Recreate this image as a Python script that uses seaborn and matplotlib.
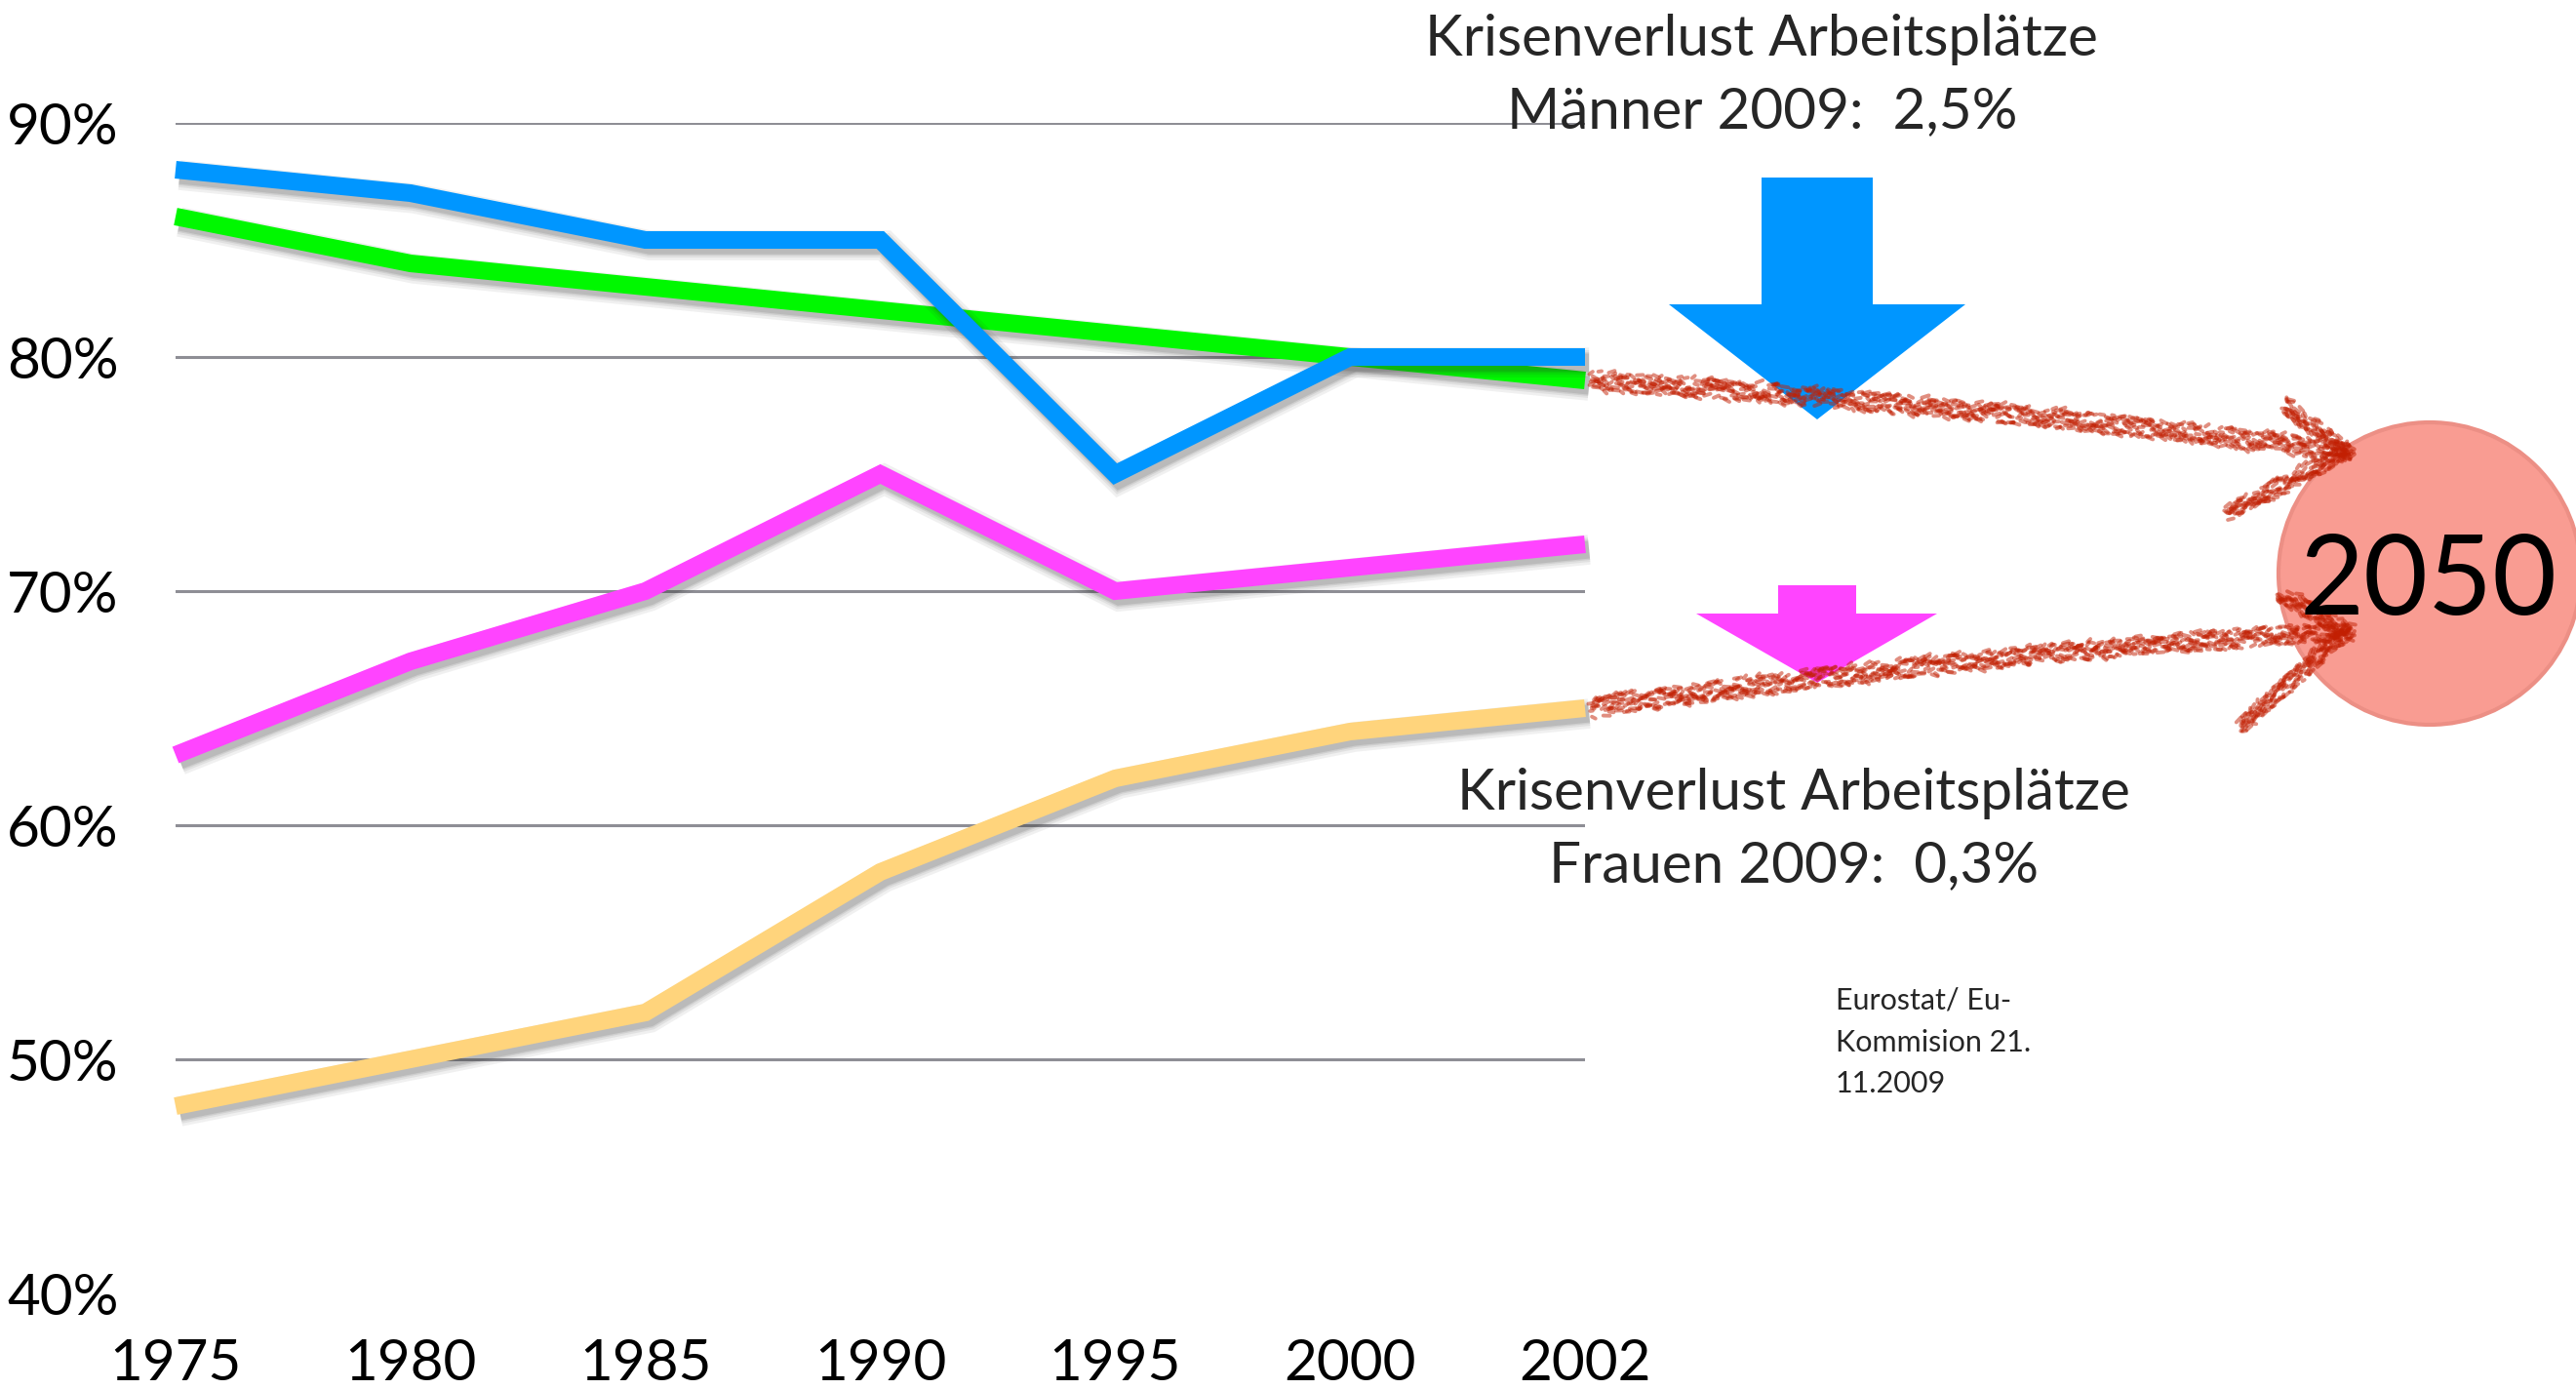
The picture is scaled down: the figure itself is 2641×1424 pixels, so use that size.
import numpy as np
import pandas as pd
import matplotlib
matplotlib.use("Agg")
import matplotlib.pyplot as plt
import seaborn as sns
from matplotlib import patheffects as pe
from matplotlib.patches import Polygon, Circle
from matplotlib.collections import LineCollection

# --- data -------------------------------------------------------------
years = ["1975", "1980", "1985", "1990", "1995", "2000", "2002"]
maenner_a = [88, 87, 85, 85, 75, 80, 80]      # blue
maenner_b = [86, 84, 83, 82, 81, 80, 79]      # green
frauen_a = [63, 67, 70, 75, 70, 71, 72]       # magenta
frauen_b = [48, 50, 52, 58, 62, 64, 65]       # yellow
y_ticks = [40, 50, 60, 70, 80, 90]
grid_levels = [50, 60, 70, 80, 90]

series_names = ["Frauen B", "Frauen A", "Männer B", "Männer A"]
series_values = [frauen_b, frauen_a, maenner_b, maenner_a]
palette = {"Männer A": "#0096ff", "Männer B": "#00f800",
           "Frauen A": "#ff44ff", "Frauen B": "#ffd47c"}

df = pd.DataFrame({
    "pos": np.tile(np.arange(len(years)), len(series_names)),
    "wert": np.concatenate(series_values),
    "reihe": np.repeat(series_names, len(years)),
})

# --- figure -----------------------------------------------------------
sns.set_theme(style="white")
plt.rcParams["font.family"] = ["Lato", "DejaVu Sans"]

W, H = 2641, 1424
fig = plt.figure(figsize=(W / 100, H / 100), dpi=100)
fig.patch.set_facecolor("white")
ax = fig.add_axes([180 / W, (H - 1326) / H, (1625 - 180) / W, (1326 - 126) / H])
ax.patch.set_alpha(0)

for lv in grid_levels:
    ax.axhline(lv, color="#8e8e95", lw=2.2, zorder=0)

LW = 13
sns.lineplot(data=df, x="pos", y="wert", hue="reihe", hue_order=series_names,
             palette=palette, linewidth=LW, legend=False, sort=False, ax=ax)

# soft drop shadow built from a few widening, faint copies
shadow = [pe.SimpleLineShadow(offset=(3, -4), shadow_color="#303030",
                              alpha=a, rho=1.0, linewidth=LW + w)
          for a, w in [(0.07, 9), (0.08, 5), (0.10, 2), (0.12, 0)]]
for ln in ax.lines[len(grid_levels):]:
    ln.set_solid_capstyle("butt")
    ln.set_solid_joinstyle("miter")
    ln.set_clip_on(False)
    ln.set_path_effects(shadow + [pe.Normal()])

ax.set_xlim(0, len(years) - 1)
ax.set_ylim(40, 90)
ax.set_xticks(range(len(years)))
ax.set_xticklabels(years, fontsize=42)
ax.set_yticks(y_ticks)
ax.set_yticklabels([f"{v}%" for v in y_ticks], fontsize=42)
ax.tick_params(axis="x", length=0, pad=33, colors="black")
ax.tick_params(axis="y", length=0, pad=42, colors="black")
ax.set_xlabel("")
ax.set_ylabel("")
for s in ax.spines.values():
    s.set_visible(False)

# --- overlay in pixel coordinates for the annotations --------------------
ov = fig.add_axes([0, 0, 1, 1], zorder=5)
ov.set_xlim(0, W)
ov.set_ylim(H, 0)
ov.axis("off")
ov.patch.set_alpha(0)


def data_to_px(x, y):
    px, py = ax.transData.transform((x, y))
    return px, H - py


# big crisis arrows
ov.add_patch(Polygon([(1806, 182), (1920, 182), (1920, 312), (2015, 312),
                      (1863, 430), (1711, 312), (1806, 312)],
                     closed=True, facecolor="#0096ff", edgecolor="none", zorder=3))
ov.add_patch(Polygon([(1823, 600), (1903, 600), (1903, 629), (1986, 629),
                      (1863, 700), (1739, 629), (1823, 629)],
                     closed=True, facecolor="#ff44ff", edgecolor="none", zorder=3))


def hashv(k, salt):
    v = np.sin(k * 12.9898 + salt * 78.233) * 43758.5453
    return v - np.floor(v)


def chalk(points, width, salt):
    """Draw a chalky red stroke along a polyline."""
    pts = np.asarray(points, float)
    seg = np.diff(pts, axis=0)
    seglen = np.hypot(seg[:, 0], seg[:, 1])
    cum = np.concatenate([[0], np.cumsum(seglen)])
    total = cum[-1]
    n = int(total / 0.9)
    s = np.linspace(0, total, n)
    px = np.interp(s, cum, pts[:, 0])
    py = np.interp(s, cum, pts[:, 1])
    tx = np.gradient(px)
    ty = np.gradient(py)
    nrm = np.hypot(tx, ty)
    tx, ty = tx / nrm, ty / nrm
    nx, ny = -ty, tx
    k = np.arange(n)
    o1 = (hashv(k, salt) - 0.5) * width
    o2 = o1 + (hashv(k, salt + 1) - 0.5) * 6
    d = 2 + 5 * hashv(k, salt + 2)
    x0 = px + nx * o1
    y0 = py + ny * o1
    x1 = px + tx * d + nx * o2
    y1 = py + ty * d + ny * o2
    segs = np.stack([np.stack([x0, y0], 1), np.stack([x1, y1], 1)], 1)
    ov.add_collection(LineCollection(segs, colors="#c21f02", linewidths=2.8,
                                     alpha=0.5, zorder=5,
                                     capstyle="round"))


def bezier(p0, c, p2, n=200):
    t = np.linspace(0, 1, n)[:, None]
    p0, c, p2 = map(np.asarray, (p0, c, p2))
    return (1 - t) ** 2 * p0 + 2 * (1 - t) * t * c + t ** 2 * p2


# target circle
ov.add_patch(Circle((2491, 588), 155, facecolor="#f99c92", edgecolor="#ec8f85",
                    lw=3, zorder=4))

# chalk arrows from the 2002 values towards 2050
last = len(years) - 1
sx, sy = data_to_px(last, maenner_b[-1])
tip_up = (2406, 463)
chalk(bezier((sx + 4, sy), (2016, 414), tip_up), 20, 1)
chalk([(2340, 413), tip_up], 16, 5)
chalk([(2281, 527), tip_up], 16, 9)

sx, sy = data_to_px(last, frauen_b[-1])
tip_lo = (2406, 647)
chalk(bezier((sx + 4, sy), (2016, 670), tip_lo), 20, 13)
chalk([(2336, 607), tip_lo], 16, 17)
chalk([(2295, 747), tip_lo], 16, 21)

ov.text(2490, 588, "2050", fontsize=82, color="black", ha="center",
        va="center_baseline", zorder=6)

# captions
ov.text(1806, 57, "Krisenverlust Arbeitsplätze", fontsize=42, ha="center",
        va="baseline", zorder=6)
ov.text(1807, 131, "Männer 2009:  2,5%", fontsize=42, ha="center",
        va="baseline", zorder=6)
ov.text(1839, 830, "Krisenverlust Arbeitsplätze", fontsize=42, ha="center",
        va="baseline", zorder=6)
ov.text(1839, 904, "Frauen 2009:  0,3%", fontsize=42, ha="center",
        va="baseline", zorder=6)

for txt, yb in [("Eurostat/ Eu-", 1035), ("Kommision 21.", 1078), ("11.2009", 1120)]:
    ov.text(1882, yb, txt, fontsize=22, ha="left", va="baseline", zorder=6)

fig.savefig("out.png", dpi=100, facecolor="white")
